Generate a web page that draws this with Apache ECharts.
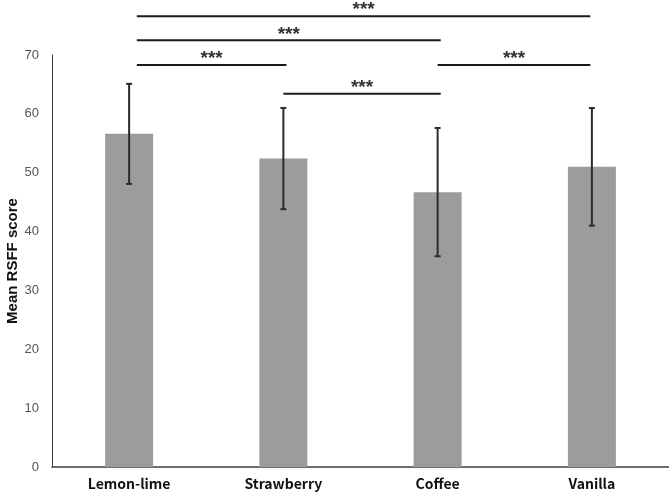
<!DOCTYPE html>
<html>
<head>
<meta charset="utf-8">
<script src="https://cdn.jsdelivr.net/npm/echarts@6/dist/echarts.min.js"></script>
<style>
  html, body { margin: 0; padding: 0; background: #fff; }
  #chart { width: 669px; height: 498px; }
</style>
</head>
<body>
<div id="chart"></div>
<script>
const categories = ['Lemon-lime', 'Strawberry', 'Coffee', 'Vanilla']
const means = [56.6, 52.4, 46.7, 51.0]
const sds = [8.5, 8.6, 10.9, 10.0]
const yTicks = [0, 10, 20, 30, 40, 50, 60, 70]

// significance brackets: [from, to, height, label]
const brackets = [
  [0, 1, 68.3, '***'],
  [0, 2, 72.5, '***'],
  [0, 3, 76.6, '***'],
  [1, 2, 63.4, '***'],
  [2, 3, 68.3, '***'],
]

const errorData = means.map((m, i) => [i, m - sds[i], m + sds[i]])

const chart = echarts.init(document.getElementById('chart'))

chart.setOption({
  animation: false,
  grid: { left: 52, right: 0, top: 55, bottom: 31, outerBoundsMode: 'none' },
  xAxis: {
    type: 'category',
    data: categories,
    axisLine: { lineStyle: { color: '#404040', width: 1.5 } },
    axisTick: { show: false },
    axisLabel: {
      color: '#111',
      fontSize: 14,
      fontWeight: 'bold',
      fontFamily: 'Noto Sans CJK JP',
      margin: 10,
    },
  },
  yAxis: {
    type: 'value',
    min: yTicks[0],
    max: yTicks[yTicks.length - 1],
    interval: 10,
    name: 'Mean RSFF score',
    nameLocation: 'middle',
    nameGap: 32,
    nameMoveOverlap: false,
    nameTextStyle: {
      color: '#111',
      fontSize: 15,
      fontWeight: 'bold',
      fontFamily: 'Liberation Sans',
    },
    axisLine: { show: true, lineStyle: { color: '#404040', width: 1 } },
    axisTick: { show: false },
    splitLine: { show: false },
    axisLabel: {
      color: '#555',
      fontSize: 13,
      fontFamily: 'Liberation Sans',
      margin: 13,
    },
  },
  series: [
    {
      type: 'bar',
      data: means,
      barWidth: 48,
      itemStyle: { color: '#9c9c9c' },
    },
    {
      type: 'custom',
      data: errorData,
      clip: false,
      z: 5,
      renderItem(params, api) {
        const x = api.value(0)
        const lo = api.coord([x, api.value(1)])
        const hi = api.coord([x, api.value(2)])
        const cap = 3
        const style = { stroke: '#2b2b2b', lineWidth: 2 }
        return {
          type: 'group',
          children: [
            { type: 'line', shape: { x1: lo[0], y1: lo[1], x2: hi[0], y2: hi[1] }, style },
            { type: 'line', shape: { x1: hi[0] - cap, y1: hi[1], x2: hi[0] + cap, y2: hi[1] }, style },
            { type: 'line', shape: { x1: lo[0] - cap, y1: lo[1], x2: lo[0] + cap, y2: lo[1] }, style },
          ],
        }
      },
    },
    {
      type: 'custom',
      data: brackets,
      clip: false,
      z: 6,
      renderItem(params, api) {
        const band = api.size([1, 0])[0]
        const from = api.value(0)
        const to = api.value(1)
        const a = api.coord([from, api.value(2)])
        const b = api.coord([to, api.value(2)])
        const x1 = a[0] + (from === 0 ? 0.05 * band : 0)
        const x2 = b[0] + (to === 3 ? -0.01 * band : 0.02 * band)
        return {
          type: 'group',
          children: [
            {
              type: 'line',
              shape: { x1, y1: a[1], x2, y2: a[1] },
              style: { stroke: '#1a1a1a', lineWidth: 2 },
            },
            {
              type: 'text',
              x: (x1 + x2) / 2,
              y: a[1] - 6,
              style: {
                text: brackets[params.dataIndex][3],
                fill: '#333',
                font: 'bold 19px "Liberation Sans"',
                align: 'center',
                verticalAlign: 'middle',
              },
            },
          ],
        }
      },
    },
  ],
})
</script>
</body>
</html>
